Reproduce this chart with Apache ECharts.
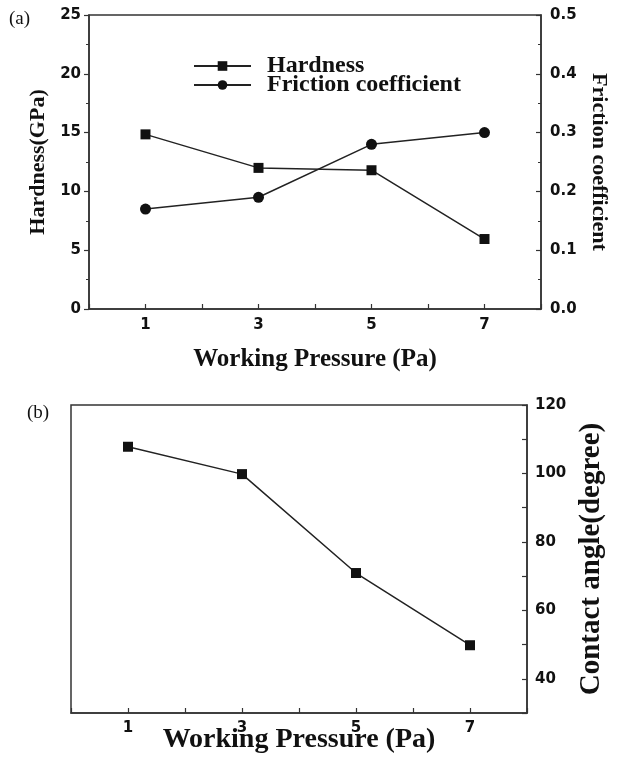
<!DOCTYPE html>
<html>
<head>
<meta charset="utf-8">
<title>Working pressure</title>
<script src="https://cdn.jsdelivr.net/npm/echarts@6/dist/echarts.min.js"></script>
<style>
  html, body { margin: 0; padding: 0; background: #fff; }
  #chart { width: 619px; height: 758px; }
</style>
</head>
<body>
<div id="chart"></div>
<script>
// values
const pressure = [1, 3, 5, 7]
const hardness = [14.85, 12.0, 11.8, 5.95]
const friction = [0.17, 0.19, 0.28, 0.30]
const contactAngle = [107.8, 99.8, 70.9, 49.8]

const serif = 'Liberation Serif'
const sans = 'DejaVu Sans'
const ink = '#111'
const axisColor = '#333'

const pairs = (xs, ys) => xs.map((x, i) => [x, ys[i]])

const tickLabel = {
  fontFamily: sans, fontWeight: 'bold', fontSize: 15, color: ink
}
const axisLine = { show: true, onZero: false, lineStyle: { color: axisColor, width: 1.5 } }

const xAxisBase = (grid, gap, size, labelMargin) => ({
  gridIndex: grid,
  type: 'value',
  min: 0,
  max: 8,
  interval: 1,
  name: 'Working Pressure (Pa)',
  nameLocation: 'middle',
  nameGap: gap,
  nameMoveOverlap: false,
  nameTextStyle: { fontFamily: serif, fontWeight: 'bold', fontSize: size, color: ink },
  axisLine: axisLine,
  axisTick: { show: true, inside: true, length: 5, lineStyle: { color: axisColor, width: 1.2 } },
  axisLabel: Object.assign({ margin: labelMargin, formatter: v => (v % 2 === 1 ? v : '') }, tickLabel),
  splitLine: { show: false }
})

const legendBase = (name, top) => ({
  data: [name], left: 193, top: top, padding: 0,
  itemWidth: 57, itemHeight: 12,
  textStyle: { fontFamily: serif, fontWeight: 'bold', fontSize: 24, color: ink, padding: [0, 0, 0, 11] }
})

const chart = echarts.init(document.getElementById('chart'))

chart.setOption({
  animation: false,
  backgroundColor: '#fff',
  grid: [
    {
      left: 89, right: 78, top: 15, height: 294, outerBoundsMode: 'none',
      show: true, borderColor: axisColor, borderWidth: 1.5
    },
    {
      left: 71, right: 92, top: 405, height: 308, outerBoundsMode: 'none',
      show: true, borderColor: axisColor, borderWidth: 1.5
    }
  ],
  legend: [
    legendBase('Hardness', 54),
    legendBase('Friction coefficient', 73)
  ],
  xAxis: [
    xAxisBase(0, 38, 25, 9),
    xAxisBase(1, 13, 28, 8)
  ],
  yAxis: [
    {
      gridIndex: 0, type: 'value', min: 0, max: 25, interval: 5,
      name: 'Hardness(GPa)', nameLocation: 'middle', nameGap: 38,
      nameTextStyle: { fontFamily: serif, fontWeight: 'bold', fontSize: 22, color: ink },
      axisLine: axisLine,
      axisTick: { show: true, length: 5, lineStyle: { color: axisColor, width: 1.2 } },
      minorTick: { show: true, splitNumber: 2, length: 3, lineStyle: { color: axisColor } },
      axisLabel: Object.assign({ margin: 8 }, tickLabel),
      splitLine: { show: false }
    },
    {
      gridIndex: 0, type: 'value', position: 'right', min: 0, max: 0.5, interval: 0.1,
      name: 'Friction coefficient', nameLocation: 'middle', nameGap: 47, nameRotate: -90,
      nameTextStyle: { fontFamily: serif, fontWeight: 'bold', fontSize: 22, color: ink },
      axisLine: axisLine,
      axisTick: { show: true, inside: true, length: 5, lineStyle: { color: axisColor, width: 1.2 } },
      minorTick: { show: true, splitNumber: 2, length: 3, lineStyle: { color: axisColor } },
      axisLabel: Object.assign({ margin: 9, formatter: v => v.toFixed(1) }, tickLabel),
      splitLine: { show: false }
    },
    {
      gridIndex: 1, type: 'value', position: 'right', min: 30, max: 120, interval: 10,
      name: 'Contact angle(degree)', nameLocation: 'middle', nameGap: 46, nameRotate: 90,
      nameTextStyle: { fontFamily: serif, fontWeight: 'bold', fontSize: 29, color: ink },
      axisLine: axisLine,
      axisTick: { show: true, inside: true, length: 5, lineStyle: { color: axisColor, width: 1.2 } },
      axisLabel: Object.assign({ margin: 8, formatter: v => (v % 20 === 0 ? v : '') }, tickLabel),
      splitLine: { show: false }
    }
  ],
  series: [
    {
      name: 'Hardness', type: 'line', xAxisIndex: 0, yAxisIndex: 0,
      data: pairs(pressure, hardness),
      symbol: 'rect', symbolSize: 10,
      itemStyle: { color: ink },
      lineStyle: { color: '#222', width: 1.5 }
    },
    {
      name: 'Friction coefficient', type: 'line', xAxisIndex: 0, yAxisIndex: 1,
      data: pairs(pressure, friction),
      symbol: 'circle', symbolSize: 11,
      itemStyle: { color: ink },
      lineStyle: { color: '#222', width: 1.5 }
    },
    {
      name: 'Contact angle', type: 'line', xAxisIndex: 1, yAxisIndex: 2,
      data: pairs(pressure, contactAngle),
      symbol: 'rect', symbolSize: 10,
      itemStyle: { color: ink },
      lineStyle: { color: '#222', width: 1.5 }
    }
  ],
  graphic: [
    { type: 'text', left: 9, top: 10, style: { text: '(a)', font: '19px "Liberation Serif"', fill: ink } },
    { type: 'text', left: 27, top: 404, style: { text: '(b)', font: '19px "Liberation Serif"', fill: ink } }
  ]
})
</script>
</body>
</html>
